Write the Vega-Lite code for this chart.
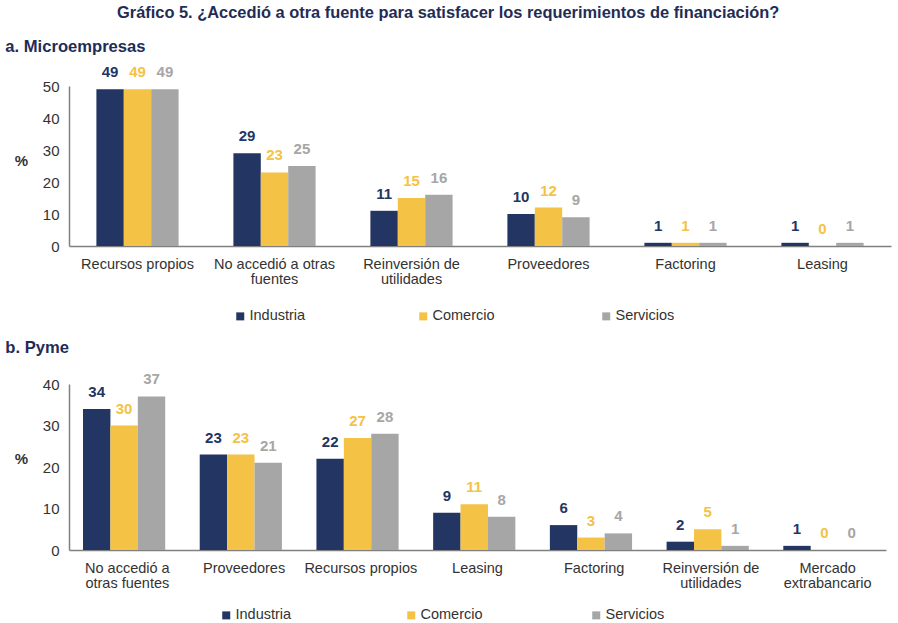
{
  "$schema": "https://vega.github.io/schema/vega-lite/v6.json",
  "padding": {"left": 5, "top": 5, "right": 5, "bottom": 0},
  "background": "white",
  "title": {
    "text": "Gráfico 5. ¿Accedió a otra fuente para satisfacer los requerimientos de financiación?",
    "font": "Liberation Sans", "fontSize": 16.4, "fontWeight": "bold", "color": "#1F2D56", "anchor": "middle", "offset": 17
  },
  "config": {
    "view": {"stroke": null},
    "font": "Liberation Sans",
    "axis": {"labelFont": "Liberation Sans", "titleFont": "Liberation Sans"},
    "legend": {"labelFont": "Liberation Sans"}
  },
  "datasets": {
    "micro": [
      {"categoria": "Recursos propios", "sector": "Industria", "valor": 49},
      {"categoria": "Recursos propios", "sector": "Comercio", "valor": 49},
      {"categoria": "Recursos propios", "sector": "Servicios", "valor": 49},
      {"categoria": "No accedió a otras|fuentes", "sector": "Industria", "valor": 29},
      {"categoria": "No accedió a otras|fuentes", "sector": "Comercio", "valor": 23},
      {"categoria": "No accedió a otras|fuentes", "sector": "Servicios", "valor": 25},
      {"categoria": "Reinversión de|utilidades", "sector": "Industria", "valor": 11},
      {"categoria": "Reinversión de|utilidades", "sector": "Comercio", "valor": 15},
      {"categoria": "Reinversión de|utilidades", "sector": "Servicios", "valor": 16},
      {"categoria": "Proveedores", "sector": "Industria", "valor": 10},
      {"categoria": "Proveedores", "sector": "Comercio", "valor": 12},
      {"categoria": "Proveedores", "sector": "Servicios", "valor": 9},
      {"categoria": "Factoring", "sector": "Industria", "valor": 1},
      {"categoria": "Factoring", "sector": "Comercio", "valor": 1},
      {"categoria": "Factoring", "sector": "Servicios", "valor": 1},
      {"categoria": "Leasing", "sector": "Industria", "valor": 1},
      {"categoria": "Leasing", "sector": "Comercio", "valor": 0},
      {"categoria": "Leasing", "sector": "Servicios", "valor": 1}
    ],
    "pyme": [
      {"categoria": "No accedió a|otras fuentes", "sector": "Industria", "valor": 34},
      {"categoria": "No accedió a|otras fuentes", "sector": "Comercio", "valor": 30},
      {"categoria": "No accedió a|otras fuentes", "sector": "Servicios", "valor": 37},
      {"categoria": "Proveedores", "sector": "Industria", "valor": 23},
      {"categoria": "Proveedores", "sector": "Comercio", "valor": 23},
      {"categoria": "Proveedores", "sector": "Servicios", "valor": 21},
      {"categoria": "Recursos propios", "sector": "Industria", "valor": 22},
      {"categoria": "Recursos propios", "sector": "Comercio", "valor": 27},
      {"categoria": "Recursos propios", "sector": "Servicios", "valor": 28},
      {"categoria": "Leasing", "sector": "Industria", "valor": 9},
      {"categoria": "Leasing", "sector": "Comercio", "valor": 11},
      {"categoria": "Leasing", "sector": "Servicios", "valor": 8},
      {"categoria": "Factoring", "sector": "Industria", "valor": 6},
      {"categoria": "Factoring", "sector": "Comercio", "valor": 3},
      {"categoria": "Factoring", "sector": "Servicios", "valor": 4},
      {"categoria": "Reinversión de|utilidades", "sector": "Industria", "valor": 2},
      {"categoria": "Reinversión de|utilidades", "sector": "Comercio", "valor": 5},
      {"categoria": "Reinversión de|utilidades", "sector": "Servicios", "valor": 1},
      {"categoria": "Mercado|extrabancario", "sector": "Industria", "valor": 1},
      {"categoria": "Mercado|extrabancario", "sector": "Comercio", "valor": 0},
      {"categoria": "Mercado|extrabancario", "sector": "Servicios", "valor": 0}
    ]
  },
  "vconcat": [
    {
      "data": {"name": "micro"},
      "width": 822,
      "height": 160,
      "title": {"text": "a. Microempresas", "anchor": "start", "fontSize": 16.6, "fontWeight": "bold", "color": "#1F2D56", "dx": -9, "offset": 10},
      "encoding": {
        "x": {"field": "categoria", "type": "nominal", "sort": null, "title": null,
          "scale": {"paddingInner": 0.4, "paddingOuter": 0.2},
          "axis": {"labelAngle": 0, "labelExpr": "split(datum.label, '|')", "labelFontSize": 14.5, "labelColor": "#333333", "labelPadding": 11, "labelLineHeight": 15, "ticks": false, "domainColor": "#808080", "domainWidth": 1.5}},
        "xOffset": {"field": "sector", "type": "nominal", "sort": ["Industria", "Comercio", "Servicios"]},
        "y": {"field": "valor", "type": "quantitative", "title": "%",
          "scale": {"domain": [0, 50]},
          "axis": {"values": [0, 10, 20, 30, 40, 50], "grid": false, "ticks": false, "domainColor": "#808080", "domainWidth": 1.5, "labelFontSize": 15, "labelColor": "#333333", "labelPadding": 10, "titleAngle": 0, "titleFontSize": 15, "titleFontWeight": "bold", "titleColor": "#333333", "titleX": -48, "titleY": 82}},
        "color": {"field": "sector", "type": "nominal", "sort": ["Industria", "Comercio", "Servicios"],
          "scale": {"domain": ["Industria", "Comercio", "Servicios"], "range": ["#233562", "#F4C244", "#A6A6A6"]},
          "legend": {"title": null, "orient": "none", "legendX": 164, "legendY": 223, "direction": "horizontal", "columns": 3, "gridAlign": "all", "columnPadding": 104, "symbolType": "square", "symbolSize": 64, "labelFontSize": 14.5, "labelColor": "#333333", "labelOffset": 2}}
      },
      "layer": [
        {"mark": {"type": "bar"}},
        {"mark": {"type": "text", "dy": -9, "baseline": "bottom", "fontWeight": "bold", "fontSize": 15},
          "encoding": {"text": {"field": "valor", "type": "quantitative"}}}
      ]
    },
    {
      "data": {"name": "pyme"},
      "width": 817,
      "height": 166,
      "title": {"text": "b. Pyme", "anchor": "start", "fontSize": 16.6, "fontWeight": "bold", "color": "#1F2D56", "dx": -9, "offset": 16},
      "encoding": {
        "x": {"field": "categoria", "type": "nominal", "sort": null, "title": null,
          "scale": {"paddingInner": 0.24, "paddingOuter": 0.12},
          "axis": {"labelAngle": 0, "labelExpr": "split(datum.label, '|')", "labelFontSize": 14.5, "labelColor": "#333333", "labelPadding": 11, "labelLineHeight": 15, "ticks": false, "domainColor": "#808080", "domainWidth": 1.5}},
        "xOffset": {"field": "sector", "type": "nominal", "sort": ["Industria", "Comercio", "Servicios"]},
        "y": {"field": "valor", "type": "quantitative", "title": "%",
          "scale": {"domain": [0, 40]},
          "axis": {"values": [0, 10, 20, 30, 40], "grid": false, "ticks": false, "domainColor": "#808080", "domainWidth": 1.5, "labelFontSize": 15, "labelColor": "#333333", "labelPadding": 10, "titleAngle": 0, "titleFontSize": 15, "titleFontWeight": "bold", "titleColor": "#333333", "titleX": -48, "titleY": 82}},
        "color": {"field": "sector", "type": "nominal", "sort": ["Industria", "Comercio", "Servicios"],
          "scale": {"domain": ["Industria", "Comercio", "Servicios"], "range": ["#233562", "#F4C244", "#A6A6A6"]},
          "legend": {"title": null, "orient": "none", "legendX": 150, "legendY": 224, "direction": "horizontal", "columns": 3, "gridAlign": "all", "columnPadding": 106, "symbolType": "square", "symbolSize": 64, "labelFontSize": 14.5, "labelColor": "#333333", "labelOffset": 2}}
      },
      "layer": [
        {"mark": {"type": "bar"}},
        {"mark": {"type": "text", "dy": -9, "baseline": "bottom", "fontWeight": "bold", "fontSize": 15},
          "encoding": {"text": {"field": "valor", "type": "quantitative"}}}
      ]
    }
  ],
  "spacing": 16,
  "resolve": {"scale": {"color": "independent"}}
}
